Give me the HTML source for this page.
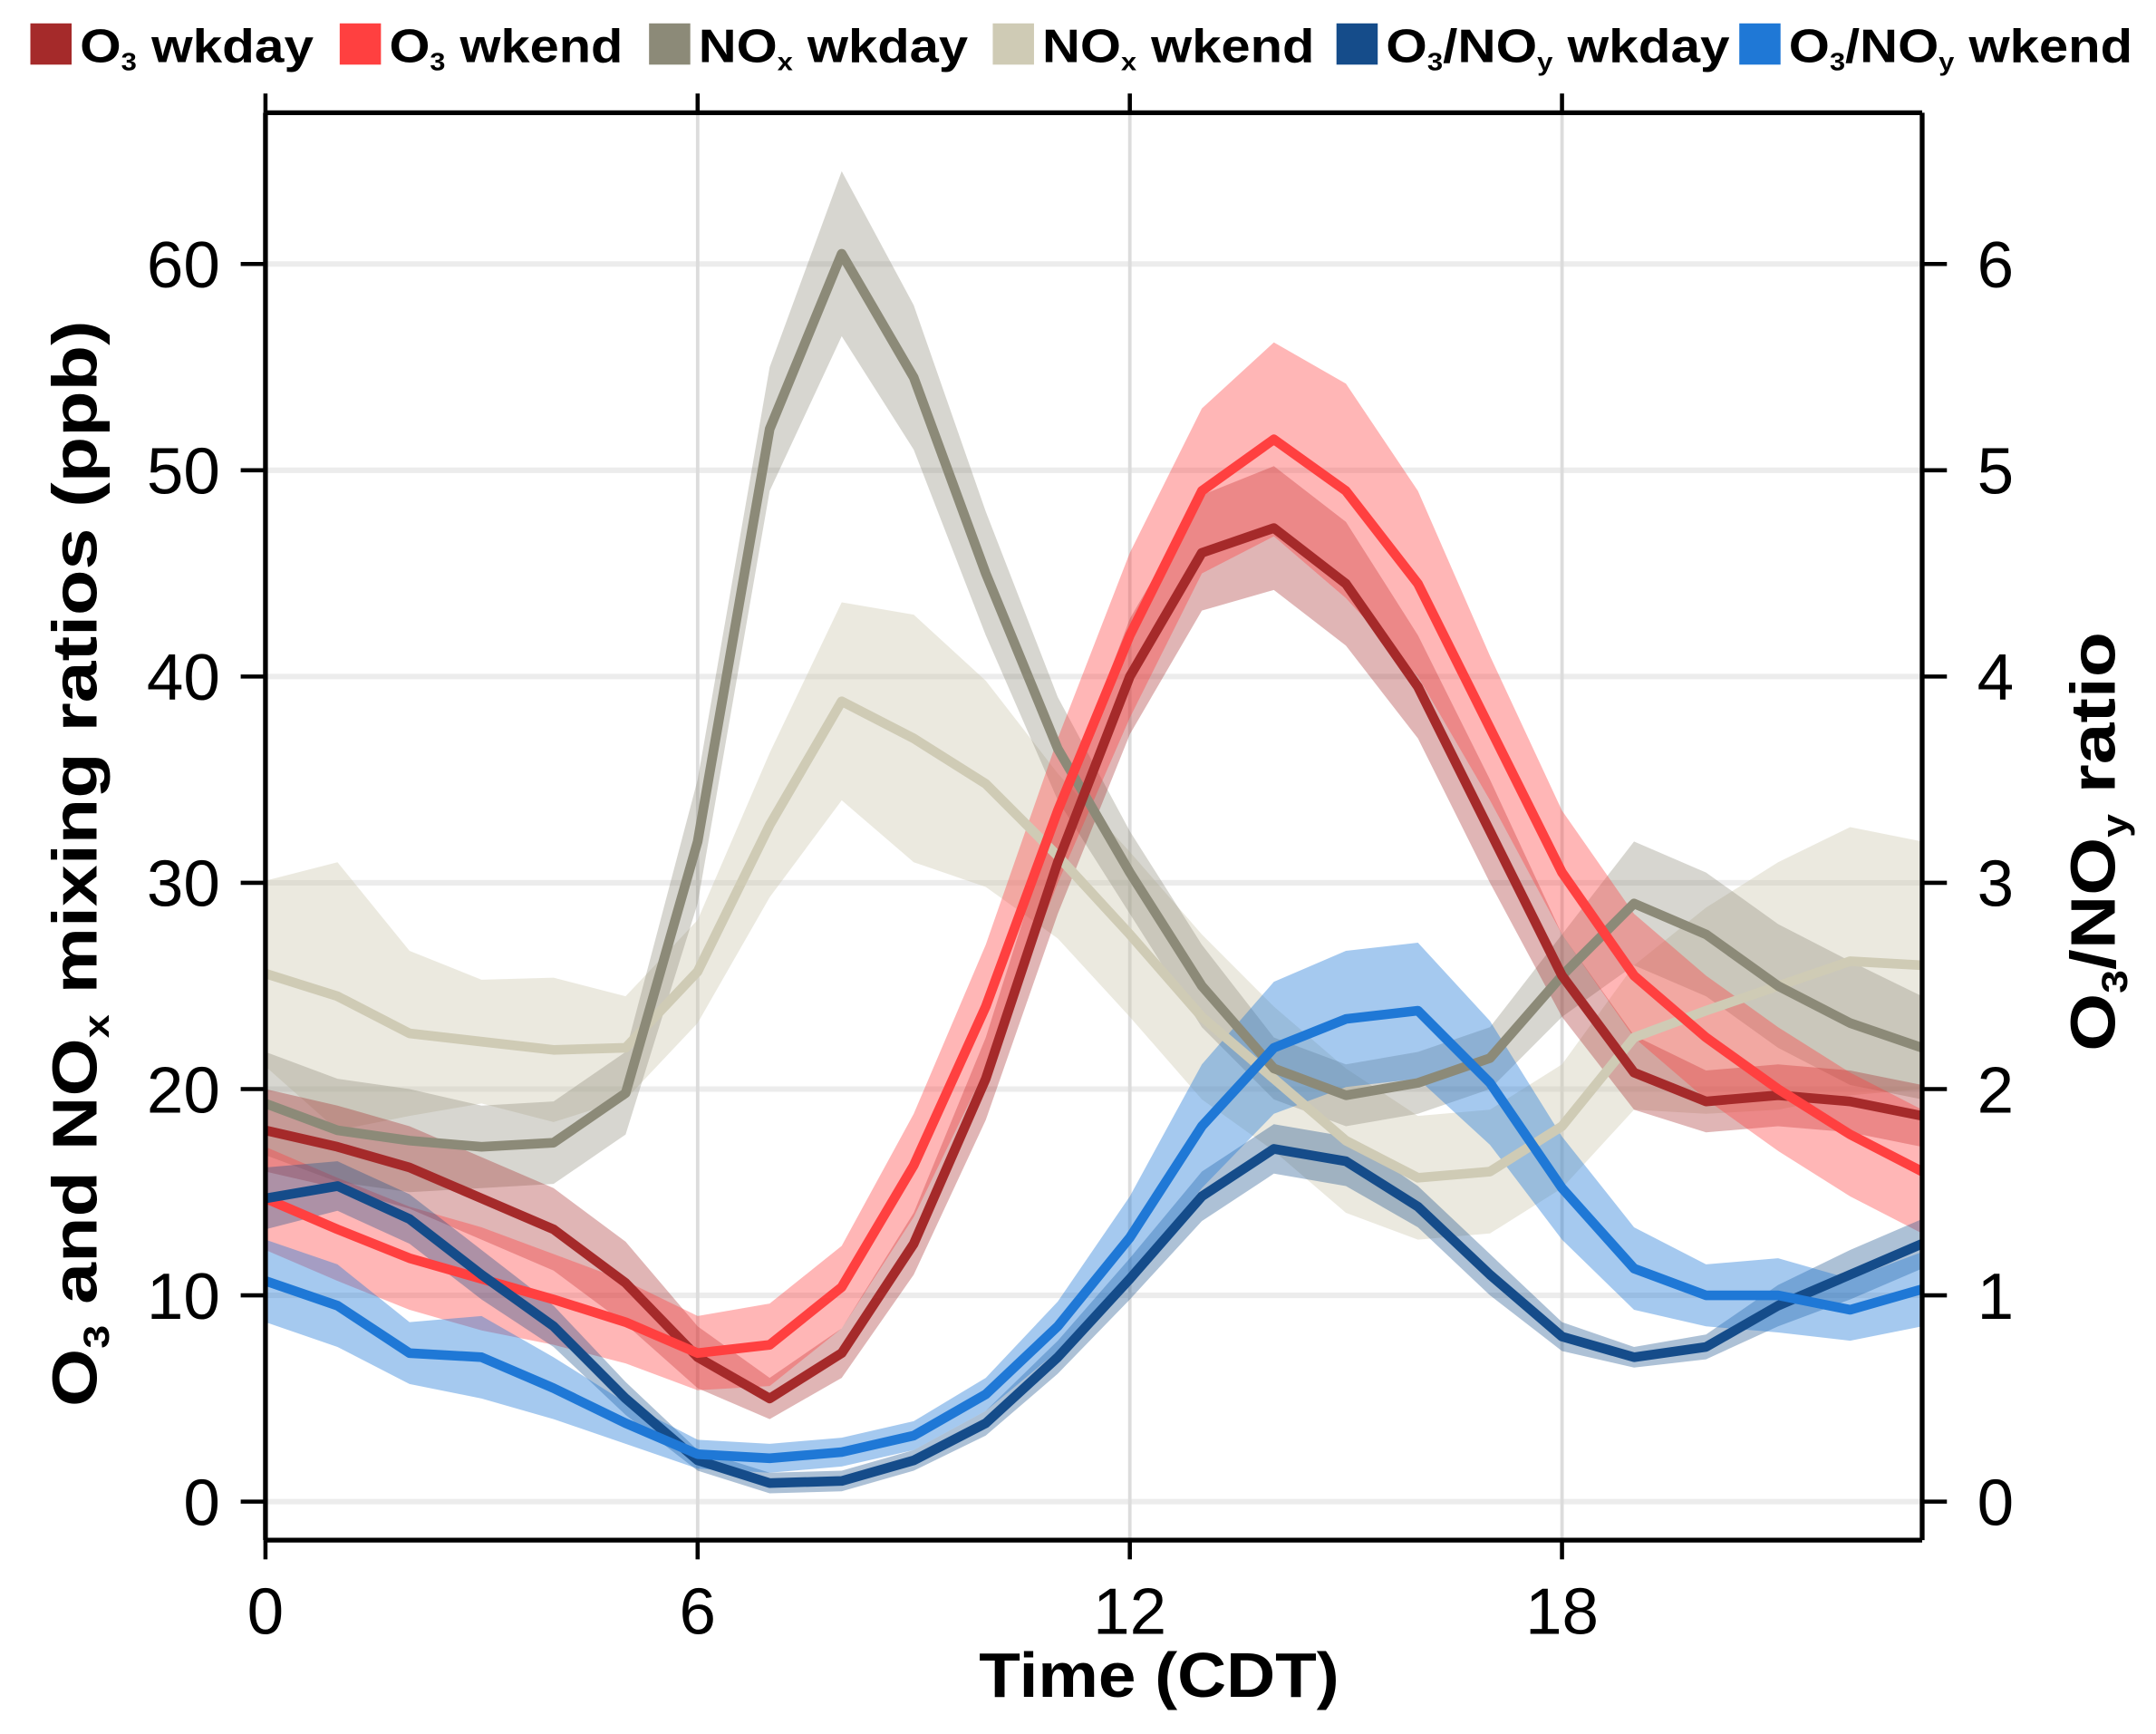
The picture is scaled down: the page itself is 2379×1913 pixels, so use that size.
<!DOCTYPE html>
<html><head><meta charset="utf-8"><style>
html,body{margin:0;padding:0;background:#fff;}
svg{display:block;font-family:"Liberation Sans",sans-serif;}
</style></head><body>
<svg id="chart" width="2379" height="1913" viewBox="0 0 1568 1261" xmlns="http://www.w3.org/2000/svg">
<g id="grid"></g>
<g id="bands"></g>
<g id="lines"></g>
<g id="axes"></g>
<g id="legend"></g>
</svg>
<script>
const hours = [0,1,2,3,4,5,6,7,8,9,10,11,12,13,14,15,16,17,18,19,20,21,22,23];
const o3Wkday = [18,17.2,16.2,14.7,13.2,10.6,7,5,7.2,12.5,20.5,31,40,46,47.2,44.5,39.5,32.5,25.5,20.8,19.4,19.7,19.4,18.7];
const o3WkdayErr = [2,2,2,2,2,2,1.5,1,1.2,1.5,2,2.5,2.8,2.8,3,3,2.5,2.5,2,1.8,1.5,1.5,1.5,1.5];
const o3Wkend = [14.7,13.2,11.8,10.8,9.8,8.7,7.2,7.6,10.4,16.3,24,33.5,42,49,51.5,49,44.5,37.5,30.5,25.5,22.5,20,17.8,16];
const o3WkendErr = [2.5,2.5,2.5,2.5,2.2,2,1.8,2,2,2.5,3,3.5,4,4,4.7,5.2,4.5,3.5,3,3,3,3,3,3];
const noxWkday = [19.3,18,17.5,17.2,17.4,19.8,32,52,60.5,54.5,45,36.5,30.5,25,21,19.7,20.3,21.5,25.5,29,27.5,25,23.2,22];
const noxWkdayErr = [2.5,2.5,2.5,2,2,2,3,3,4,3.5,3,2.5,2,2,1.5,1.5,1.5,1.5,2,3,3,3,3,2.5];
const noxWkend = [25.6,24.5,22.7,22.3,21.9,22,25.7,32.8,38.8,37,34.8,31.3,27.5,23.5,20.5,17.5,15.7,16,18.2,22.5,23.8,25,26.2,26];
const noxWkendErr = [4.5,6.5,4,3,3.5,2.5,2.5,3.5,4.8,6,5,4,4,4,3.5,3.5,3,3,3,3.5,5,6,6.5,6];
const ratioWkday = [1.47,1.53,1.37,1.1,0.85,0.5,0.2,0.09,0.1,0.2,0.38,0.7,1.08,1.48,1.71,1.65,1.43,1.1,0.8,0.7,0.75,0.95,1.1,1.25];
const ratioWkdayErr = [0.15,0.12,0.12,0.12,0.1,0.08,0.05,0.05,0.05,0.05,0.06,0.08,0.1,0.12,0.12,0.12,0.1,0.1,0.07,0.05,0.06,0.1,0.12,0.12];
const ratioWkend = [1.07,0.95,0.72,0.7,0.55,0.38,0.23,0.21,0.24,0.32,0.52,0.85,1.28,1.82,2.2,2.34,2.38,2.03,1.52,1.13,1.0,1.0,0.93,1.03];
const ratioWkendErr = [0.2,0.2,0.15,0.2,0.15,0.1,0.07,0.07,0.07,0.07,0.08,0.12,0.2,0.3,0.32,0.33,0.33,0.3,0.25,0.2,0.15,0.18,0.15,0.18];
const xTicks = [0,6,12,18];
const yTicks = [0,10,20,30,40,50,60];
const y2Ticks = [0,1,2,3,4,5,6];

const NS="http://www.w3.org/2000/svg";
const L=193,R=1398,T=82,B=1120;
const x=h=>L+h*(R-L)/23;
const y=v=>1092-v*15;
const y2=v=>y(v*10);
function mk(tag,parent,attrs){const e=document.createElementNS(NS,tag);for(const k in attrs)e.setAttribute(k,attrs[k]);parent.appendChild(e);return e;}
const grid=document.getElementById('grid'),bands=document.getElementById('bands'),lines=document.getElementById('lines'),axes=document.getElementById('axes'),legend=document.getElementById('legend');

yTicks.forEach(v=>{const g=mk('line',grid,{x1:L,x2:R,y1:y(v),y2:y(v),stroke:'#ececec','stroke-width':4});

});
xTicks.slice(1).forEach(h=>{const g=mk('line',grid,{x1:x(h),x2:x(h),y1:T,y2:B,stroke:'#dcdcdc','stroke-width':2.5});

});

const series=[
 {name:'nox-wkend',vals:noxWkend,err:noxWkendErr,sc:y,line:'#cfcbb5',band:'rgba(205,200,175,0.4)'},
 {name:'nox-wkday',vals:noxWkday,err:noxWkdayErr,sc:y,line:'#8c8a78',band:'rgba(140,138,120,0.35)'},
 {name:'o3-wkday',vals:o3Wkday,err:o3WkdayErr,sc:y,line:'#a52a2a',band:'rgba(165,42,42,0.35)'},
 {name:'o3-wkend',vals:o3Wkend,err:o3WkendErr,sc:y,line:'#ff4040',band:'rgba(255,64,64,0.38)'},
 {name:'ratio-wkday',vals:ratioWkday,err:ratioWkdayErr,sc:y2,line:'#154c8a',band:'rgba(21,76,138,0.35)'},
 {name:'ratio-wkend',vals:ratioWkend,err:ratioWkendErr,sc:y2,line:'#1f78d6',band:'rgba(31,120,214,0.4)'}
];
series.forEach(s=>{
 const up=hours.map((h,i)=>x(h)+','+s.sc(s.vals[i]+s.err[i]));
 const dn=hours.map((h,i)=>x(h)+','+s.sc(s.vals[i]-s.err[i])).reverse();
 const b=mk('polygon',bands,{points:up.concat(dn).join(' '),fill:s.band});
 
 
 const l=mk('polyline',lines,{points:hours.map((h,i)=>x(h)+','+s.sc(s.vals[i])).join(' '),fill:'none',stroke:s.line,'stroke-width':7,'stroke-linejoin':'round'});
 
 
});

[[L,T,R,T],[L,B,R,B],[L,T,L,B],[R,T,R,B]].forEach(c=>{const f=mk('line',axes,{x1:c[0],y1:c[1],x2:c[2],y2:c[3],stroke:'#000','stroke-width':3.5});

});
xTicks.forEach(h=>{
 mk('line',axes,{x1:x(h),x2:x(h),y1:B,y2:B+14,stroke:'#000','stroke-width':3});
 mk('line',axes,{x1:x(h),x2:x(h),y1:T-14,y2:T,stroke:'#000','stroke-width':3});
 const t=mk('text',axes,{x:x(h),y:1188,'text-anchor':'middle','font-size':48});
 t.textContent=h;
 
 
});
yTicks.forEach(v=>{
 mk('line',axes,{x1:L-18,x2:L,y1:y(v),y2:y(v),stroke:'#000','stroke-width':3});
 const t=mk('text',axes,{x:160,y:y(v)+17,'text-anchor':'end','font-size':48});
 t.textContent=v;
 
 
});
y2Ticks.forEach(v=>{
 mk('line',axes,{x1:R,x2:R+18,y1:y2(v),y2:y2(v),stroke:'#000','stroke-width':3});
 const t=mk('text',axes,{x:1438,y:y2(v)+17,'text-anchor':'start','font-size':48});
 t.textContent=v;
 
 
});

const legColors=['#a52a2a','#ff4040','#8c8a78','#cfcbb5','#154c8a','#1f78d6'];
const legX=[22,247,472,722,972,1265];
legColors.forEach((c,i)=>{
 const r=mk('rect',legend,{x:legX[i],y:17,width:30,height:30,fill:c});
 
 
});
</script>
<svg style="position:absolute;left:0;top:0" width="2379" height="1913" viewBox="0 0 1568 1261" xmlns="http://www.w3.org/2000/svg">
<g font-family="Liberation Sans, sans-serif" font-weight="bold" font-size="34">
<text x="58" y="45" textLength="170" lengthAdjust="spacingAndGlyphs">O<tspan font-size="18" dy="6">3</tspan><tspan dy="-6"> wkday</tspan></text>
<text x="283" y="45" textLength="170" lengthAdjust="spacingAndGlyphs">O<tspan font-size="18" dy="6">3</tspan><tspan dy="-6"> wkend</tspan></text>
<text x="508" y="45" textLength="196" lengthAdjust="spacingAndGlyphs">NO<tspan font-size="18" dy="6">x</tspan><tspan dy="-6"> wkday</tspan></text>
<text x="758" y="45" textLength="198" lengthAdjust="spacingAndGlyphs">NO<tspan font-size="18" dy="6">x</tspan><tspan dy="-6"> wkend</tspan></text>
<text x="1008" y="45" textLength="250" lengthAdjust="spacingAndGlyphs">O<tspan font-size="18" dy="6">3</tspan><tspan dy="-6">/NO</tspan><tspan font-size="18" dy="6">y</tspan><tspan dy="-6"> wkday</tspan></text>
<text x="1301" y="45" textLength="250" lengthAdjust="spacingAndGlyphs">O<tspan font-size="18" dy="6">3</tspan><tspan dy="-6">/NO</tspan><tspan font-size="18" dy="6">y</tspan><tspan dy="-6"> wkend</tspan></text>
</g>
<text x="843" y="1234" text-anchor="middle" font-family="Liberation Sans, sans-serif" font-weight="bold" font-size="46" textLength="262" lengthAdjust="spacingAndGlyphs">Time (CDT)</text>
<text transform="translate(70,628) rotate(-90)" text-anchor="middle" font-family="Liberation Sans, sans-serif" font-weight="bold" font-size="46" textLength="790" lengthAdjust="spacingAndGlyphs">O<tspan font-size="26" dy="9">3</tspan><tspan dy="-9"> and NO</tspan><tspan font-size="26" dy="9">x</tspan><tspan dy="-9"> mixing ratios (ppb)</tspan></text>
<text transform="translate(1538,612) rotate(-90)" text-anchor="middle" font-family="Liberation Sans, sans-serif" font-weight="bold" font-size="46" textLength="305" lengthAdjust="spacingAndGlyphs">O<tspan font-size="26" dy="9">3</tspan><tspan dy="-9">/NO</tspan><tspan font-size="26" dy="9">y</tspan><tspan dy="-9"> ratio</tspan></text>
</svg>
</body></html>
